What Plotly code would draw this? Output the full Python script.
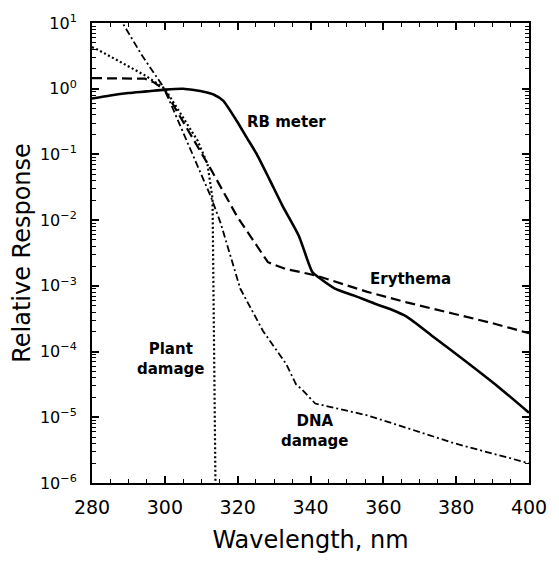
import plotly.graph_objects as go

# ---- data ----
rb_wl = [280, 285, 290, 295, 300, 305, 308, 311, 313.5, 316, 319.8, 322.5, 325.2, 328.8,
         332.4, 336.8, 340.5, 342.2, 346.7, 352, 357.5, 362, 366.4, 373.6, 382.5, 391.6, 400]
rb_val = [0.71, 0.79, 0.86, 0.91, 0.97, 1.0, 0.955, 0.89, 0.81, 0.66, 0.32, 0.18, 0.102, 0.041,
          0.0162, 0.00575, 0.00162, 0.00135, 0.00091, 0.00071, 0.00054, 0.00044, 0.00034,
          0.00017, 7.2e-5, 2.9e-5, 1.17e-5]

ery_wl = [280, 285, 290, 294.5, 297, 300, 302.8, 312.6, 319.8, 328.3, 333, 341.3, 355.6,
          366.4, 379, 390, 400]
ery_val = [1.45, 1.45, 1.45, 1.42, 1.25, 0.95, 0.51, 0.060, 0.0115, 0.00229, 0.00182,
           0.00145, 0.00081, 0.00056, 0.00038, 0.00027, 0.00019]

plant_wl = [280, 281.3, 285, 289.3, 294.7, 300, 304.5, 309, 311.7, 313.1, 313.9]
plant_val = [4.3, 4.0, 3.1, 2.3, 1.58, 1.0, 0.41, 0.162, 0.072, 0.021, 1e-6]

dna_wl = [285, 288.4, 293.8, 299.2, 301, 307.2, 312.6, 315.3, 320.7, 327, 333.3, 336, 337.8,
          341.3, 346.7, 351, 355.6, 366.4, 379, 390, 400]
dna_val = [20, 10, 3.16, 1.15, 0.71, 0.115, 0.023, 0.0091, 0.00091, 0.000204, 6.5e-5, 3.2e-5,
           2.6e-5, 1.62e-5, 1.38e-5, 1.23e-5, 1.07e-5, 6.9e-6, 4.1e-6, 2.8e-6, 2.0e-6]

x_ticks = [280, 300, 320, 340, 360, 380, 400]
y_exps = [-6, -5, -4, -3, -2, -1, 0, 1]
y_ticks = [10.0 ** e for e in y_exps]
y_ticktext = ["10<sup>%s</sup>" % (str(e).replace("-", "\u2212")) for e in y_exps]
y_minor = [m * 10.0 ** e for e in y_exps[:-1] for m in range(2, 10)]

FONT = "DejaVu Sans"

fig = go.Figure()
fig.add_trace(go.Scatter(x=rb_wl, y=rb_val, mode="lines",
                         line=dict(color="black", width=2.6, shape="spline", smoothing=0.6)))
fig.add_trace(go.Scatter(x=ery_wl, y=ery_val, mode="lines",
                         line=dict(color="black", width=2.2, dash="10px,5px")))
fig.add_trace(go.Scatter(x=plant_wl, y=plant_val, mode="lines",
                         line=dict(color="black", width=2.2, dash="2px,2.5px")))
fig.add_trace(go.Scatter(x=dna_wl, y=dna_val, mode="lines",
                         line=dict(color="black", width=1.8, dash="7px,3px,2px,3px")))

lab_font = dict(family=FONT, size=15, color="black", weight="bold")
annots = [
    ("RB meter", 333.3, -0.5),
    ("Erythema", 367.4, -2.9),
    ("Plant<br>damage", 301.8, -4.12),
    ("DNA<br>damage", 341.3, -5.21),
]
fig.update_layout(annotations=[
    dict(text=t, x=x, y=y, xref="x", yref="y", showarrow=False, font=lab_font,
         align="center", xanchor="center", yanchor="middle")
    for t, x, y in annots
])

fig.update_layout(
    width=559, height=561,
    margin=dict(l=92, r=21, t=17, b=77),
    plot_bgcolor="white", paper_bgcolor="white",
    showlegend=False,
    font=dict(family=FONT, color="black"),
)
fig.update_xaxes(
    range=[280, 400], tickvals=x_ticks, ticks="inside", ticklen=7, tickwidth=1.6,
    tickcolor="black", showline=True, linewidth=2, linecolor="black", mirror="allticks",
    showgrid=False, zeroline=False, tickfont=dict(family=FONT, size=19),
    ticklabelstandoff=6,
    minor=dict(ticks="inside", ticklen=4, dtick=5, tickwidth=1.4, tickcolor="black",
               showgrid=False),
    title=dict(text="Wavelength, nm", font=dict(family=FONT, size=24), standoff=14),
)
fig.update_yaxes(
    type="log", range=[-6, 1], tickvals=y_ticks, ticktext=y_ticktext,
    ticks="inside", ticklen=7, tickwidth=1.6, tickcolor="black",
    showline=True, linewidth=2, linecolor="black", mirror="allticks",
    showgrid=False, zeroline=False, tickfont=dict(family=FONT, size=16),
    ticklabelstandoff=10,
    minor=dict(ticks="inside", ticklen=4, tickvals=y_minor, tickwidth=1.4,
               tickcolor="black", showgrid=False),
    title=dict(text="Relative Response", font=dict(family=FONT, size=24), standoff=3),
)

fig.write_html("out.html")
